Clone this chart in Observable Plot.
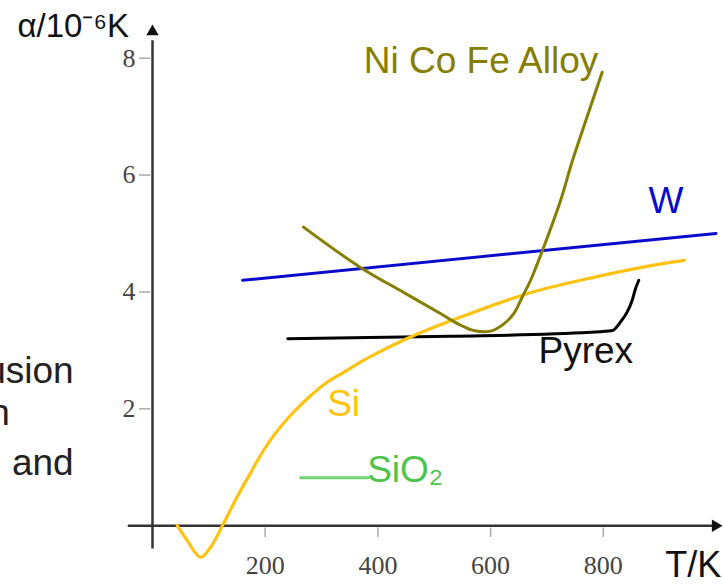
<!DOCTYPE html>
<html><head><meta charset="utf-8">
<script src="https://cdn.jsdelivr.net/npm/d3@7"></script>
<script src="https://cdn.jsdelivr.net/npm/@observablehq/plot@0.6"></script>
<style>
body{margin:0;background:#fff}
#chart svg{overflow:visible}
</style>
</head><body><div id="chart"></div>
<script>
// tick labels
const xTicks = [200, 400, 600, 800];
const yTicks = [2, 4, 6, 8];

// series (T in K, alpha in 1e-6/K)
const wT = [160, 1000];
const wA = [4.2, 5.0];

const siT = [44, 62, 85, 103, 124, 150, 174, 192, 218, 251, 280, 310, 340, 369, 402, 463, 547, 665, 783, 902, 944];
const siA = [0.0, -0.26, -0.54, -0.37, 0.0, 0.49, 0.90, 1.21, 1.58, 1.95, 2.22, 2.455, 2.63, 2.80, 2.97, 3.25, 3.57, 3.97, 4.25, 4.48, 4.54];

const alloyT = [268, 369, 446, 511, 547, 570, 600, 623, 641, 656, 671, 694, 724, 745, 771, 798];
const alloyA = [5.11, 4.42, 3.99, 3.63, 3.43, 3.34, 3.33, 3.45, 3.63, 3.91, 4.2, 4.76, 5.56, 6.24, 6.99, 7.76];

const pyrexT = [240, 529, 777, 816, 830, 842, 851, 857, 863];
const pyrexA = [3.2, 3.24, 3.31, 3.34, 3.48, 3.65, 3.85, 4.05, 4.2];

const sio2T = [263, 383];
const sio2A = [0.82, 0.82];

// series labels
const labelText = ["Ni Co Fe Alloy", "W", "Pyrex", "Si", "SiO\u2082"];
const labelT = [375, 880, 685, 310, 381];
const labelA = [7.74, 5.35, 2.78, 1.885, 0.745];
const labelColor = ["#857e00", "#0a0acc", "#111111", "#ffc20e", "#4cc44c"];

// cropped slide text on the left
const sideText = ["usion", "n", "and"];
const sideT = [-140, -253, -140];
const sideA = [2.45, 1.73, 0.86];

const rows = (T, A) => T.map((t, i) => ({T: t, a: A[i]}));
const sans = "Liberation Sans, Arial, sans-serif";
const serif = "Liberation Serif, Times New Roman, serif";

const plot = Plot.plot({
  width: 723, height: 588,
  marginLeft: 0, marginRight: 0, marginTop: 0, marginBottom: 0,
  x: {domain: [0, 800], range: [152, 602.8], axis: null},
  y: {domain: [0, 8], range: [525.2, 57.7], axis: null},
  style: {background: "#fff", overflow: "visible"},
  marks: [
    // axes
    Plot.ruleX([0], {y1: -0.4, y2: 8.3, stroke: "#333", strokeWidth: 2.5}),
    Plot.ruleY([0], {x1: -43, x2: 995, stroke: "#333", strokeWidth: 2.5}),
    Plot.dot([{T: 0, a: 8.455}], {x: "T", y: "a", symbol: "triangle", r: 4.6, fill: "#111", stroke: null}),
    Plot.dot([{T: 999, a: 0}], {x: "T", y: "a", symbol: "triangle", r: 4.6, rotate: 90, fill: "#111", stroke: null}),
    Plot.ruleY(yTicks, {y: d => d, x1: -23, x2: -3, stroke: "#aaa", strokeWidth: 1.5}),
    Plot.ruleX(xTicks, {x: d => d, y1: -0.04, y2: -0.2, stroke: "#aaa", strokeWidth: 1.5}),
    Plot.text(yTicks, {x: -41.7, y: d => d, text: d => String(d), fontFamily: serif, fontSize: 26, fill: "#444"}),
    Plot.text(xTicks, {x: d => d, y: -0.68, text: d => String(d), fontFamily: serif, fontSize: 26, fill: "#444"}),
    Plot.text(["T/K"], {x: 910, y: -0.88, text: d => d, textAnchor: "start", lineAnchor: "bottom", fontFamily: sans, fontSize: 36, fill: "#111"}),
    Plot.text(["\u03b1/10\u207b\u2076K"], {x: -239.6, y: 8.37, text: d => d, textAnchor: "start", lineAnchor: "bottom", fontFamily: sans, fontSize: 33, fill: "#111"}),
    // side text
    Plot.text(sideText, {x: (d, i) => sideT[i], y: (d, i) => sideA[i], text: d => d, textAnchor: "end", lineAnchor: "bottom", fontFamily: sans, fontSize: 37, fill: "#222"}),
    // series
    Plot.line(rows(wT, wA), {x: "T", y: "a", stroke: "#0a0acc", strokeWidth: 3}),
    Plot.line(rows(pyrexT, pyrexA), {x: "T", y: "a", stroke: "#000", strokeWidth: 3, curve: "monotone-x"}),
    Plot.line(rows(siT, siA), {x: "T", y: "a", stroke: "#ffc20e", strokeWidth: 3.2, curve: "catmull-rom"}),
    Plot.line(rows(alloyT, alloyA), {x: "T", y: "a", stroke: "#857e00", strokeWidth: 3, curve: "catmull-rom"}),
    Plot.line(rows(sio2T, sio2A), {x: "T", y: "a", stroke: "#6fd66f", strokeWidth: 3}),
    // labels
    Plot.text(labelText, {x: (d, i) => labelT[i], y: (d, i) => labelA[i], text: d => d, fill: (d, i) => labelColor[i], textAnchor: "start", lineAnchor: "bottom", fontFamily: sans, fontSize: 37})
  ]
});
document.getElementById("chart").append(plot);
</script>
</body></html>
